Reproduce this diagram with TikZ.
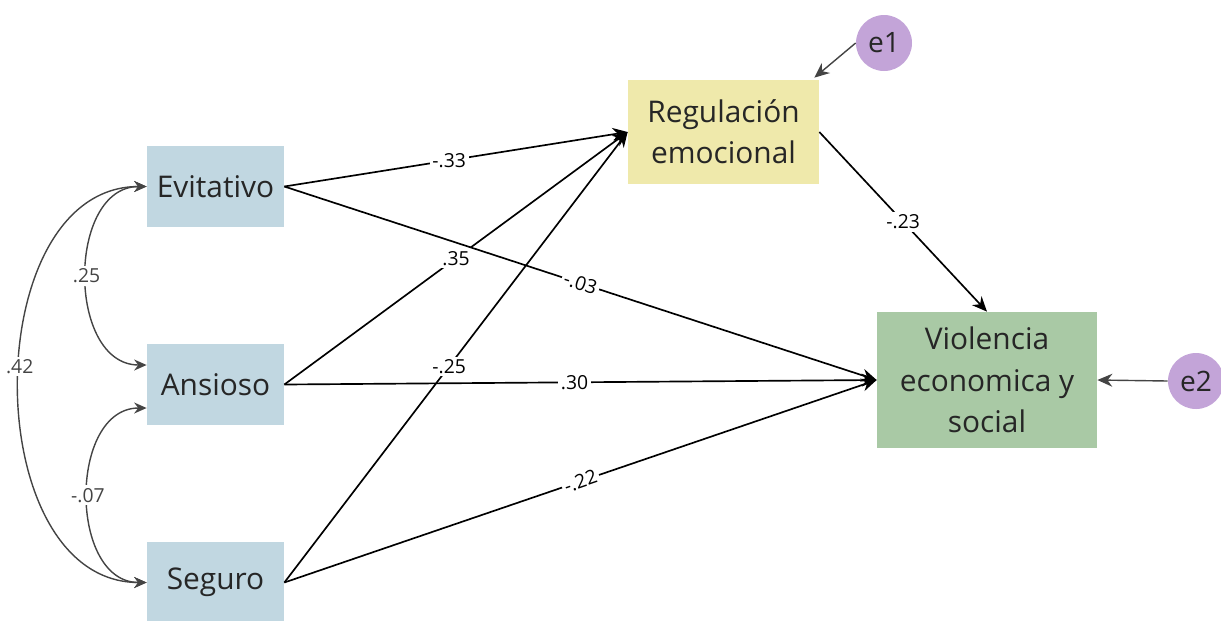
\documentclass[tikz,border=0pt]{standalone}
\usepackage{fontspec}
\setmainfont{Open Sans}
\usetikzlibrary{arrows.meta}
\usepackage{xcolor}
\definecolor{attachblue}{HTML}{C1D7E1}
\definecolor{regyellow}{HTML}{EFE9AB}
\definecolor{violgreen}{HTML}{A9C9A5}
\definecolor{errpurple}{HTML}{C3A4D8}
\definecolor{covgray}{HTML}{444444}

\begin{document}
\begin{tikzpicture}[
    varbox/.style={rectangle, text=black!85, align=center, font=\fontsize{17}{23.5}\selectfont},
    errnode/.style={circle, fill=errpurple, text=black!85, minimum size=1.12cm, inner sep=0pt, font=\fontsize{16}{18}\selectfont},
    effect/.style={-{Stealth[length=3mm,width=2.6mm]}, line width=0.95pt},
    cov/.style={{Stealth[length=2.5mm,width=2.2mm]}-{Stealth[length=2.5mm,width=2.2mm]}, covgray, line width=0.8pt},
    coef/.style={fill=white, inner sep=1.5pt, font=\fontsize{11}{12}\selectfont}
]
            \useasboundingbox (0,0) rectangle (24.42,-12.4);
            \clip (0,0) rectangle (24.42,-12.4);

            % Attachment styles
            \node[varbox, fill=attachblue, minimum width=2.74cm, minimum height=1.62cm] (evit) at (4.31,-3.73) {Evitativo};
            \node[varbox, fill=attachblue, minimum width=2.74cm, minimum height=1.62cm] (ansi) at (4.31,-7.69) {Ansioso};
            \node[varbox, fill=attachblue, minimum width=2.74cm, minimum height=1.62cm] (seg) at (4.31,-11.65) {Seguro};

            % Mediator and outcome
            \node[varbox, fill=regyellow, minimum width=3.82cm, minimum height=2.08cm] (reg) at (14.47,-2.64) {Regulación\\emocional};
            \node[varbox, fill=violgreen, minimum width=4.4cm, minimum height=2.72cm] (viol) at (19.74,-7.6) {Violencia\\economica y\\social};

            % Error terms
            \node[errnode] (e1) at (17.68,-0.86) {e1};
            \node[errnode] (e2) at (23.92,-7.62) {e2};

            % Covariances
            \draw[cov] (evit.west) to[out=180, in=180, looseness=1.15] node[coef, text=covgray] {.25} ([yshift=0.39cm]ansi.west);
            \draw[cov] ([yshift=-0.47cm]ansi.west) to[out=180, in=180, looseness=1.15] node[coef, text=covgray] {-.07} (seg.west);
            \draw[cov] (evit.west) to[out=180, in=180, looseness=1.1] node[coef, text=covgray, pos=0.47] {.42} (seg.west);

            % Paths to Regulacion
            \draw[effect] (evit.east) -- node[coef, pos=0.48] {-.33} (reg.west);
            \draw[effect] (ansi.east) -- node[coef, pos=0.5] {.35} (reg.west);
            \draw[effect] (seg.east) -- node[coef, pos=0.48] {-.25} (reg.west);

            % Paths to Violencia
            \draw[effect] (evit.east) -- node[coef, sloped, pos=0.5] {-.03} (viol.west);
            \draw[effect] (ansi.east) -- node[coef, pos=0.49] {.30} (viol.west);
            \draw[effect] (seg.east) -- node[coef, sloped, pos=0.5] {-.22} (viol.west);
            \draw[effect] (reg.east) -- node[coef] {-.23} (viol.north);

            % Residuals
            \draw[effect, covgray, line width=0.8pt] (e1.west) -- ([xshift=-0.1cm,yshift=0.04cm]reg.north east);
            \draw[effect, covgray, line width=0.8pt] (e2.west) -- (viol.east);
        \end{tikzpicture}
\end{document}
